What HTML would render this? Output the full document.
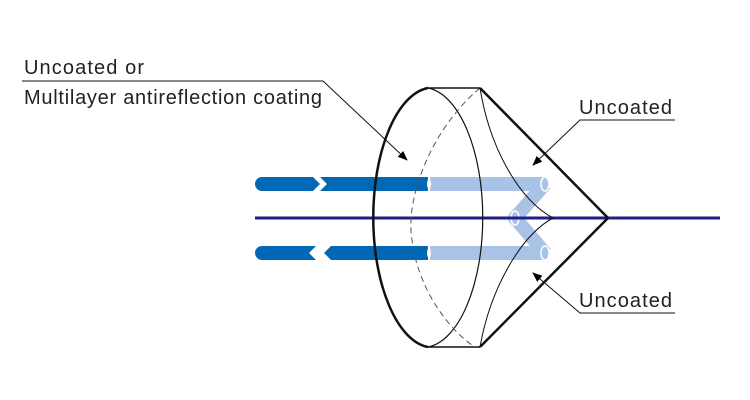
<!DOCTYPE html>
<html><head><style>html,body{margin:0;padding:0;background:#fff}svg{display:block}</style></head>
<body>
<svg width="750" height="400" viewBox="0 0 750 400" xmlns="http://www.w3.org/2000/svg" font-family="Liberation Sans, Arial, sans-serif">
<defs>
<marker id="ah" markerWidth="10" markerHeight="8" refX="9" refY="4" orient="auto" markerUnits="userSpaceOnUse">
<path d="M0,0 L10,4 L0,8 Z" fill="#000"/>
</marker>
</defs>
<g stroke="#a9c3e6" stroke-width="14" fill="none">
<line x1="430" y1="184" x2="545" y2="184"/>
<line x1="430" y1="253" x2="545" y2="253"/>
<polyline points="545,184 515,218 545,253" stroke-linejoin="round"/>
</g>
<g fill="#a9c3e6" stroke="#fff" stroke-width="1.5">
<ellipse cx="545" cy="184" rx="4" ry="7"/>
<ellipse cx="545" cy="253" rx="4" ry="7"/>
<ellipse cx="515" cy="218" rx="4" ry="7"/>
</g>
<path d="M262,177 L313,177 L320,184 L313,191 L262,191 A7,7 0 0 1 262,177 Z" fill="#0068b5"/>
<path d="M320,177 L428,177 L428,191 L320,191 L327,184 Z" fill="#0068b5"/>
<path d="M262,246 L316,246 L309,253 L316,260 L262,260 A7,7 0 0 1 262,246 Z" fill="#0068b5"/>
<path d="M331,246 L428,246 L428,260 L331,260 L324,253 Z" fill="#0068b5"/>
<ellipse cx="429" cy="184" rx="2" ry="5" fill="#fff"/>
<ellipse cx="429" cy="253" rx="2" ry="5" fill="#fff"/>
<line x1="255" y1="218" x2="720" y2="218" stroke="#1d2088" stroke-width="3"/>
<path d="M428,88 A60,130 0 0 0 428,347" fill="none" stroke="#111" stroke-width="2.5"/>
<path d="M428,88 A60,130 0 0 1 428,347" fill="none" stroke="#111" stroke-width="1.2"/>
<path d="M480,88 C430,130 405,200 412,240 C418,290 450,330 472,345" fill="none" stroke="#555" stroke-width="1" stroke-dasharray="6,4"/>
<line x1="427" y1="88" x2="480" y2="88" stroke="#111" stroke-width="1.5"/>
<line x1="427" y1="347" x2="480" y2="347" stroke="#111" stroke-width="1.5"/>
<path d="M480,88 C490,150 520,200 553,218 C520,236 490,290 480,347" fill="none" stroke="#111" stroke-width="1"/>
<path d="M480,88 L608,218 L480,347" fill="none" stroke="#111" stroke-width="2.5"/>
<g stroke="#111" stroke-width="1" fill="none">
<polyline points="22,81 323,81 407,160" marker-end="url(#ah)"/>
<polyline points="675,120 580,120 533,165" marker-end="url(#ah)"/>
<polyline points="675,313 580,313 533,273" marker-end="url(#ah)"/>
</g>
<g font-size="20" fill="#222">
<text x="24" y="74" textLength="120">Uncoated or</text>
<text x="24" y="104" textLength="298">Multilayer antireflection coating</text>
<text x="579" y="114" textLength="93">Uncoated</text>
<text x="579" y="307" textLength="93">Uncoated</text>
</g>
</svg>
</body></html>
